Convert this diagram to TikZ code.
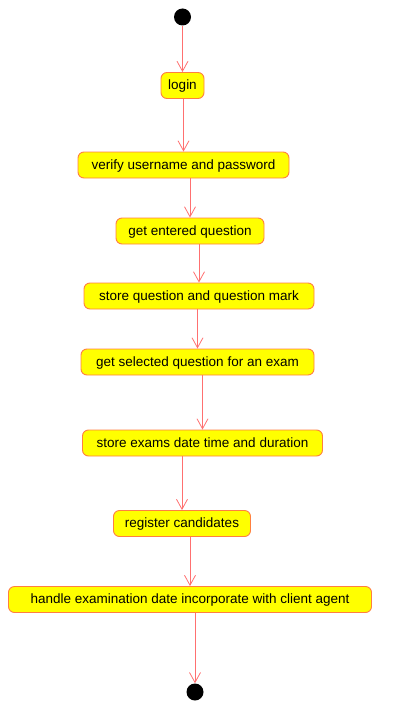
\documentclass[tikz,border=0pt]{standalone}
\usepackage{fontspec}
\setmainfont{Liberation Sans}
\usetikzlibrary{arrows.meta}
\definecolor{boxborder}{HTML}{FF7F40}
\definecolor{boxfill}{HTML}{FFFF00}
\definecolor{flowline}{HTML}{FF7070}
\tikzset{
  activity/.style={draw=boxborder, fill=boxfill, rounded corners=6pt, line width=0.9pt,
    minimum height=26pt, inner sep=0pt, text height=10pt, text depth=2pt,
    font=\fontsize{13.5pt}{16pt}\selectfont, text=black},
  terminal/.style={circle, fill=black, draw=none, minimum size=17pt, inner sep=0pt},
  flow/.style={draw=flowline, line width=0.8pt, -{Straight Barb[length=10pt,width=11pt,line width=0.8pt]}}
}
\begin{document}
\begin{tikzpicture}[x=1pt,y=-1pt]
\useasboundingbox (0,0) rectangle (411,706);
\node[terminal] (start) at (182.5,17) {};
\node[activity, minimum width=43pt] (login) at (182.5,85.5) {login};
\node[activity, minimum width=211pt] (verify) at (183.5,165) {verify username and password};
\node[activity, minimum width=148pt] (getq) at (190,231) {get entered question};
\node[activity, minimum width=230pt] (storeq) at (199,296) {store question and question mark};
\node[activity, minimum width=233pt] (getsel) at (197.5,362) {get selected question for an exam};
\node[activity, minimum width=240pt] (storeex) at (202.5,443) {store exams date time and duration};
\node[activity, minimum width=137pt] (reg) at (182,523.5) {register candidates};
\node[activity, minimum width=363pt] (handle) at (190,599.5) {handle examination date incorporate with client agent};
\node[terminal] (end) at (195,692) {};

\draw[flow] (start.south -| login) -- (login.north);
\draw[flow] (login.south -| verify) -- (verify.north);
\draw[flow] (verify.south -| getq) -- (getq.north);
\draw[flow] (getq.south -| storeq) -- (storeq.north);
\draw[flow] (storeq.south -| getsel) -- (getsel.north);
\draw[flow] (getsel.south -| storeex) -- (storeex.north);
\draw[flow] (storeex.south -| reg) -- (reg.north);
\draw[flow] (reg.south -| handle) -- (handle.north);
\draw[flow] (handle.south -| end) -- (end.north);
\end{tikzpicture}
\end{document}
